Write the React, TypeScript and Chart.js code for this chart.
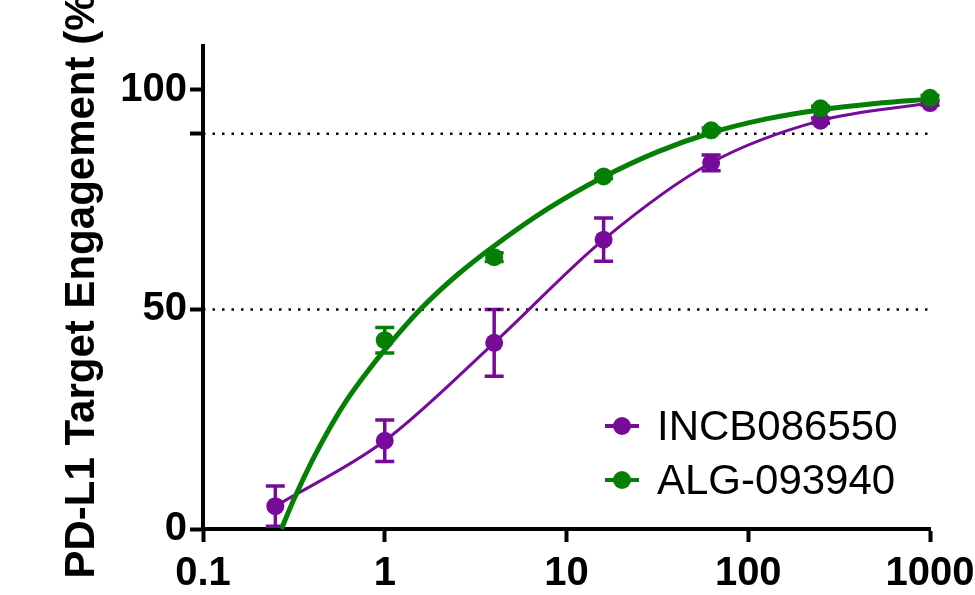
import React, { useEffect, useRef } from 'react';
import { Chart, registerables } from 'chart.js';

Chart.register(...registerables);

// ---- data ----
const concentrations = [0.25, 1, 4, 16, 62.5, 250, 1000];
const incbMean = [5.2, 20.1, 42.4, 65.9, 83.4, 93.0, 97.0];
const incbErr = [4.6, 4.7, 7.6, 4.9, 1.8, 0.6, 0.5];

const algConcentrations = [1, 4, 16, 62.5, 250, 1000];
const algMean = [43.0, 61.9, 80.3, 90.8, 95.8, 98.2];
const algErr = [2.9, 1.0, 0.5, 0.5, 0.5, 0.5];

// fitted curve of ALG-093940
const algFitX = [0.27, 0.316, 0.398, 0.501, 0.631, 0.794, 1, 1.585, 2.512, 3.981, 7.943, 15.85, 31.62, 63.1, 125.9, 251.2, 501.2, 1000];
const algFitY = [0, 6.7, 15.5, 23.2, 29.9, 35.6, 40.8, 50.2, 57.9, 64.4, 73.0, 80.1, 85.9, 90.3, 93.4, 95.5, 96.9, 97.9];

const referenceLevels = [50, 90];
const xTicks = [0.1, 1, 10, 100, 1000];
const xTickLabels = ['0.1', '1', '10', '100', '1000'];
const yTicks = [0, 50, 90, 100];
const yLabelled = [0, 50, 100];

const seriesNames = ['INCB086550', 'ALG-093940'];
const PURPLE = '#760b99';
const GREEN = '#067f06';
const FONT = "'Liberation Sans', Arial, Helvetica, sans-serif";
const yTitle = 'PD-L1 Target Engagement (%)';

const errorBarPlugin = {
  id: 'errorBars',
  beforeDatasetsDraw(chart: any) {
    const { ctx } = chart;
    const xs = chart.scales.x;
    const ys = chart.scales.y;
    const groups = [
      { xv: concentrations, m: incbMean, e: incbErr, color: PURPLE },
      { xv: algConcentrations, m: algMean, e: algErr, color: GREEN },
    ];
    ctx.save();
    groups.forEach((g) => {
      ctx.strokeStyle = g.color;
      ctx.lineWidth = 3.5;
      g.xv.forEach((xv, i) => {
        const px = xs.getPixelForValue(xv);
        const top = ys.getPixelForValue(g.m[i] + g.e[i]);
        const bot = ys.getPixelForValue(Math.max(g.m[i] - g.e[i], 0));
        ctx.beginPath();
        ctx.moveTo(px, top);
        ctx.lineTo(px, bot);
        ctx.moveTo(px - 9.5, top);
        ctx.lineTo(px + 9.5, top);
        ctx.moveTo(px - 9.5, bot);
        ctx.lineTo(px + 9.5, bot);
        ctx.stroke();
      });
    });
    ctx.restore();
  },
};

const legendTitlePlugin = {
  id: 'legendTitle',
  afterDraw(chart: any) {
    const { ctx } = chart;
    ctx.save();
    const colors = [PURPLE, GREEN];
    const rows = [426, 480];
    seriesNames.forEach((name, i) => {
      const y = rows[i];
      ctx.strokeStyle = colors[i];
      ctx.lineWidth = 4;
      ctx.beginPath();
      ctx.moveTo(605, y);
      ctx.lineTo(639, y);
      ctx.stroke();
      ctx.fillStyle = colors[i];
      ctx.beginPath();
      ctx.arc(622, y, 9, 0, Math.PI * 2);
      ctx.fill();
      ctx.fillStyle = '#000';
      ctx.font = `42px ${FONT}`;
      ctx.textAlign = 'left';
      ctx.textBaseline = 'middle';
      ctx.fillText(name, 657, y + 2);
    });
    // y axis title
    ctx.translate(82, 279);
    ctx.rotate(-Math.PI / 2);
    ctx.font = `bold 42px ${FONT}`;
    ctx.textAlign = 'center';
    ctx.textBaseline = 'middle';
    ctx.fillStyle = '#000';
    ctx.fillText(yTitle, 0, 0);
    ctx.restore();
  },
};

export default function App() {
  const ref = useRef<HTMLCanvasElement | null>(null);

  useEffect(() => {
    if (!ref.current) return;
    Chart.defaults.font.family = FONT;
    const refSets = referenceLevels.map((lvl) => ({
      label: 'ref' + lvl,
      data: [
        { x: xTicks[0], y: lvl },
        { x: xTicks[xTicks.length - 1], y: lvl },
      ],
      borderColor: '#000',
      borderWidth: 2.5,
      borderDash: [2.5, 7],
      pointRadius: 0,
      order: 10,
      clip: false,
    }));

    const chart = new Chart(ref.current, {
      type: 'line',
      data: {
        datasets: [
          ...refSets,
          {
            label: seriesNames[0],
            data: concentrations.map((x, i) => ({ x, y: incbMean[i] })),
            borderColor: PURPLE,
            backgroundColor: PURPLE,
            borderWidth: 3,
            pointRadius: 9,
            pointBorderWidth: 0,
            cubicInterpolationMode: 'monotone',
            order: 4,
            clip: false,
          },
          {
            label: seriesNames[1] + ' fit',
            data: algFitX.map((x, i) => ({ x, y: algFitY[i] })),
            borderColor: GREEN,
            borderWidth: 5,
            pointRadius: 0,
            cubicInterpolationMode: 'monotone',
            order: 2,
            clip: false,
          },
          {
            label: seriesNames[1],
            data: algConcentrations.map((x, i) => ({ x, y: algMean[i] })),
            borderColor: GREEN,
            backgroundColor: GREEN,
            showLine: false,
            pointRadius: 9,
            pointBorderWidth: 0,
            order: 1,
            clip: false,
          },
        ] as any,
      },
      options: {
        responsive: false,
        animation: false,
        devicePixelRatio: 1,
        layout: { padding: { top: 46, right: 45, left: 0, bottom: 0 } },
        plugins: {
          legend: { display: false },
          tooltip: { enabled: false },
        },
        scales: {
          x: {
            type: 'logarithmic',
            min: 0.1,
            max: 1000,
            afterBuildTicks: (s: any) => {
              s.ticks = xTicks.map((v) => ({ value: v }));
            },
            afterFit: (s: any) => {
              s.height = 66;
              s.paddingLeft = 0;
              s.paddingRight = 0;
            },
            ticks: {
              callback: (v: any) => {
                const i = xTicks.indexOf(Number(v));
                return i >= 0 ? xTickLabels[i] : '';
              },
              font: { size: 40, weight: 'bold' },
              color: '#000',
              padding: 8,
              maxRotation: 0,
              autoSkip: false,
            },
            grid: {
              drawOnChartArea: false,
              drawTicks: true,
              tickLength: 13,
              tickWidth: 4,
              tickColor: '#000',
            },
            border: { color: '#000', width: 4 },
          },
          y: {
            type: 'linear',
            min: 0,
            max: 110,
            afterBuildTicks: (s: any) => {
              s.ticks = yTicks.map((v) => ({ value: v }));
            },
            afterFit: (s: any) => {
              s.width = 203;
              s.paddingTop = 0;
              s.paddingBottom = 0;
            },
            ticks: {
              callback: (v: any) => (yLabelled.includes(Number(v)) ? String(v) : ''),
              font: { size: 40, weight: 'bold' },
              color: '#000',
              padding: 3,
              autoSkip: false,
            },
            grid: {
              drawOnChartArea: false,
              drawTicks: true,
              tickLength: 13,
              tickWidth: 4,
              tickColor: '#000',
            },
            border: { color: '#000', width: 4 },
          },
        },
      } as any,
      plugins: [errorBarPlugin, legendTitlePlugin],
    });
    return () => chart.destroy();
  }, []);

  return (
    <div style={{ position: 'fixed', left: 0, top: 0, width: 975, height: 595, background: '#fff' }}>
      <canvas ref={ref} width={975} height={595} style={{ width: 975, height: 595 }} />
    </div>
  );
}
